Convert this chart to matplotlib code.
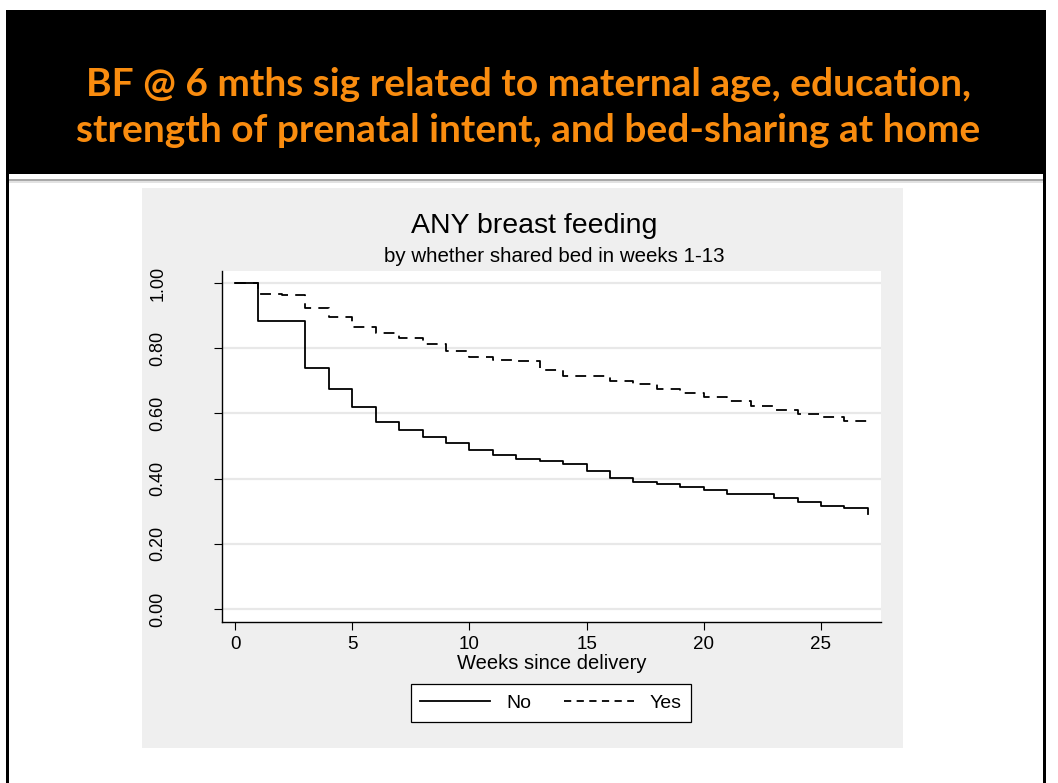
import numpy as np
import matplotlib.pyplot as plt
from matplotlib.patches import Rectangle
from matplotlib.lines import Line2D

plt.rcParams['font.family'] = ['Liberation Sans', 'DejaVu Sans']

# slide heading
heading = ['BF @ 6 mths sig related to maternal age, education,',
           'strength of prenatal intent, and bed-sharing at home']

# Kaplan-Meier estimates, one value per week (step after drop)
weeks = [0, 1, 2, 3, 4, 5, 6, 7, 8, 9, 10, 11, 12, 13, 14,
         15, 16, 17, 18, 19, 20, 21, 22, 23, 24, 25, 26, 27]
surv_no = [1.000, 0.883, 0.883, 0.740, 0.674, 0.621, 0.575, 0.549, 0.527, 0.508,
           0.487, 0.472, 0.460, 0.453, 0.446, 0.422, 0.401, 0.391, 0.382, 0.373,
           0.365, 0.353, 0.353, 0.340, 0.329, 0.317, 0.311, 0.291]
surv_yes = [1.000, 0.967, 0.962, 0.922, 0.897, 0.866, 0.846, 0.832, 0.812, 0.791,
            0.772, 0.764, 0.760, 0.734, 0.716, 0.716, 0.700, 0.690, 0.674, 0.664,
            0.651, 0.639, 0.624, 0.610, 0.598, 0.590, 0.578, 0.574]
group_labels = ['No', 'Yes']

xticks = [0, 5, 10, 15, 20, 25]
yticks = [0.0, 0.2, 0.4, 0.6, 0.8, 1.0]

W, H = 1058, 783
fig = plt.figure(figsize=(W / 100, H / 100), dpi=100)
fig.patch.set_facecolor('white')

def fx(x):
    return x / W

def fy(y):
    return 1 - y / H

def box(x0, y0, x1, y1, color, z=0):
    fig.add_artist(Rectangle((fx(x0), fy(y1)), fx(x1) - fx(x0), fy(y0) - fy(y1),
                             transform=fig.transFigure, facecolor=color,
                             edgecolor='none', zorder=z))

# slide frame + black header
box(6, 10, 1046, 174, 'black')
box(6, 174, 9, H, 'black')
box(1043, 174, 1046, H, 'black')
box(9, 179, 1043, 181, '#a9a9a9')
box(9, 181, 1043, 183, '#e2e2e2')

fig.text(fx(528), fy(84), heading[0], color='#f98c0f', fontsize=28, fontweight='bold',
         family='Lato', ha='center', va='center')
fig.text(fx(528), fy(130), heading[1], color='#f98c0f', fontsize=28, fontweight='bold',
         family='Lato', ha='center', va='center')

# grey stata graph region
box(142, 188, 903, 748, '#efefef')

ax = fig.add_axes([fx(222), fy(622), fx(881) - fx(222), fy(271) - fy(622)])
ax.set_facecolor('white')
ax.set_zorder(2)

ax.step(weeks, surv_no, where='post', color='black', lw=1.3, label=group_labels[0])
ax.step(weeks, surv_yes, where='post', color='black', lw=1.3, dashes=(6, 4),
        label=group_labels[1])

ax.set_xlim(-0.555, 27.56)
ax.set_ylim(-0.04, 1.037)
ax.set_xticks(xticks)
ax.set_yticks(yticks)
ax.set_yticklabels(['%.2f' % v for v in yticks], rotation=90, va='center')
ax.tick_params(axis='y', length=6, width=0.8, pad=34, labelsize=13)
ax.tick_params(axis='x', length=6, width=0.8, pad=4, labelsize=13.5)
ax.yaxis.grid(True, color='#e8e8e8', lw=1.6)
ax.set_axisbelow(True)
for s in ['top', 'right']:
    ax.spines[s].set_visible(False)
for s in ['left', 'bottom']:
    ax.spines[s].set_linewidth(1.0)

ax.set_xlabel('Weeks since delivery', fontsize=14.5, labelpad=1)

fig.text(fx(534), fy(226), 'ANY breast feeding', fontsize=20.5, ha='center', va='center')
fig.text(fx(554), fy(257), 'by whether shared bed in weeks 1-13', fontsize=14.8,
         ha='center', va='center')

handles = [Line2D([], [], color='black', lw=1.3),
           Line2D([], [], color='black', lw=1.3, dashes=(4, 3))]
leg = ax.legend(handles, group_labels, ncol=2, loc='center',
                bbox_to_anchor=(fx(551), fy(703)), bbox_transform=fig.transFigure,
                fontsize=14, handlelength=3.6, handletextpad=0.8, columnspacing=1.7,
                fancybox=False, framealpha=1, edgecolor='black', borderpad=0.5)
leg.get_frame().set_linewidth(0.9)

fig.savefig('out.png', dpi=100)
